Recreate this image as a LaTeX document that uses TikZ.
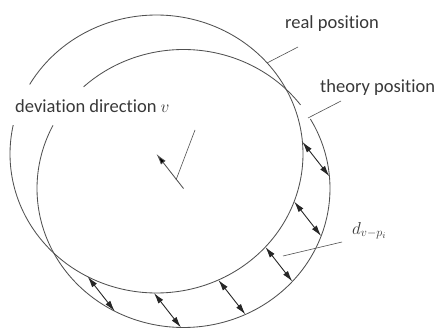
\documentclass[tikz,border=0pt]{standalone}
\usepackage{fontspec}
\setmainfont{Carlito}[Ligatures=NoCommon]
\usetikzlibrary{arrows.meta,calc}
\definecolor{ln}{HTML}{505050}
\definecolor{tx}{HTML}{383838}
\begin{document}
\begin{tikzpicture}[x=1pt,y=-1pt,
  circ/.style={draw=ln,line width=0.85pt},
  lead/.style={draw=ln,line width=0.6pt},
  lbl/.style={text=tx,font=\fontsize{18.5}{22}\selectfont,inner sep=0pt,anchor=base west},
  dev/.style={draw=black!85,line width=0.9pt,{Latex[length=11pt,width=6pt]}-{Latex[length=11pt,width=6pt]}}]
\useasboundingbox (0,0) rectangle (440,329);
\coordinate (cA) at (156.5,154);
\coordinate (cB) at (183.5,188.5);
% real position (A) and theory position (B)
\draw[circ] plot[domain=210:552,samples=220] ({156.5+146.5*cos(\x)},{154+139*sin(\x)});
\draw[circ] plot[domain=227:323,samples=80] ({183.5+146.5*cos(\x)},{188.5+139*sin(\x)});
\draw[circ] plot[domain=330:567,samples=160] ({183.5+146.5*cos(\x)},{188.5+139*sin(\x)});
% deviation arrows
\foreach \t [count=\i] in {-5,20,42,65,91,118} {
  \coordinate (a\i) at ({156.5+146.5*cos(\t)},{154+139*sin(\t)});
  \coordinate (b\i) at ({183.5+146.5*cos(\t)},{188.5+139*sin(\t)});
  \draw[dev] (a\i) -- (b\i);
}
% centre direction mark
\draw[draw=ln,line width=0.85pt,-{Latex[length=11pt,width=6pt,fill=black]}] (cB) -- (cA);
\coordinate (m1) at (195,130);
\coordinate (m2) at (176,180);
\draw[lead] (m1) -- (m2);
% labels
\node[lbl] (rp) at (285,28.5) {real position};
\node[lbl] (tp) at (320,93) {theory position};
\node[lbl] (dv) at (15,113) {deviation direction $v$};
\node[lbl] (dl) at (352,234) {$d_{v-p_i}$};
% leaders
\coordinate (r1) at (298,47);
\coordinate (r2) at (267,63);
\coordinate (t1) at (341,101);
\coordinate (t2) at (308,118);
\coordinate (d1) at (342,242);
\coordinate (d2) at (283,256);
\draw[lead] (r1) -- (r2);
\draw[lead] (t1) -- (t2);
\draw[lead] (d1) -- (d2);
\end{tikzpicture}
\end{document}
